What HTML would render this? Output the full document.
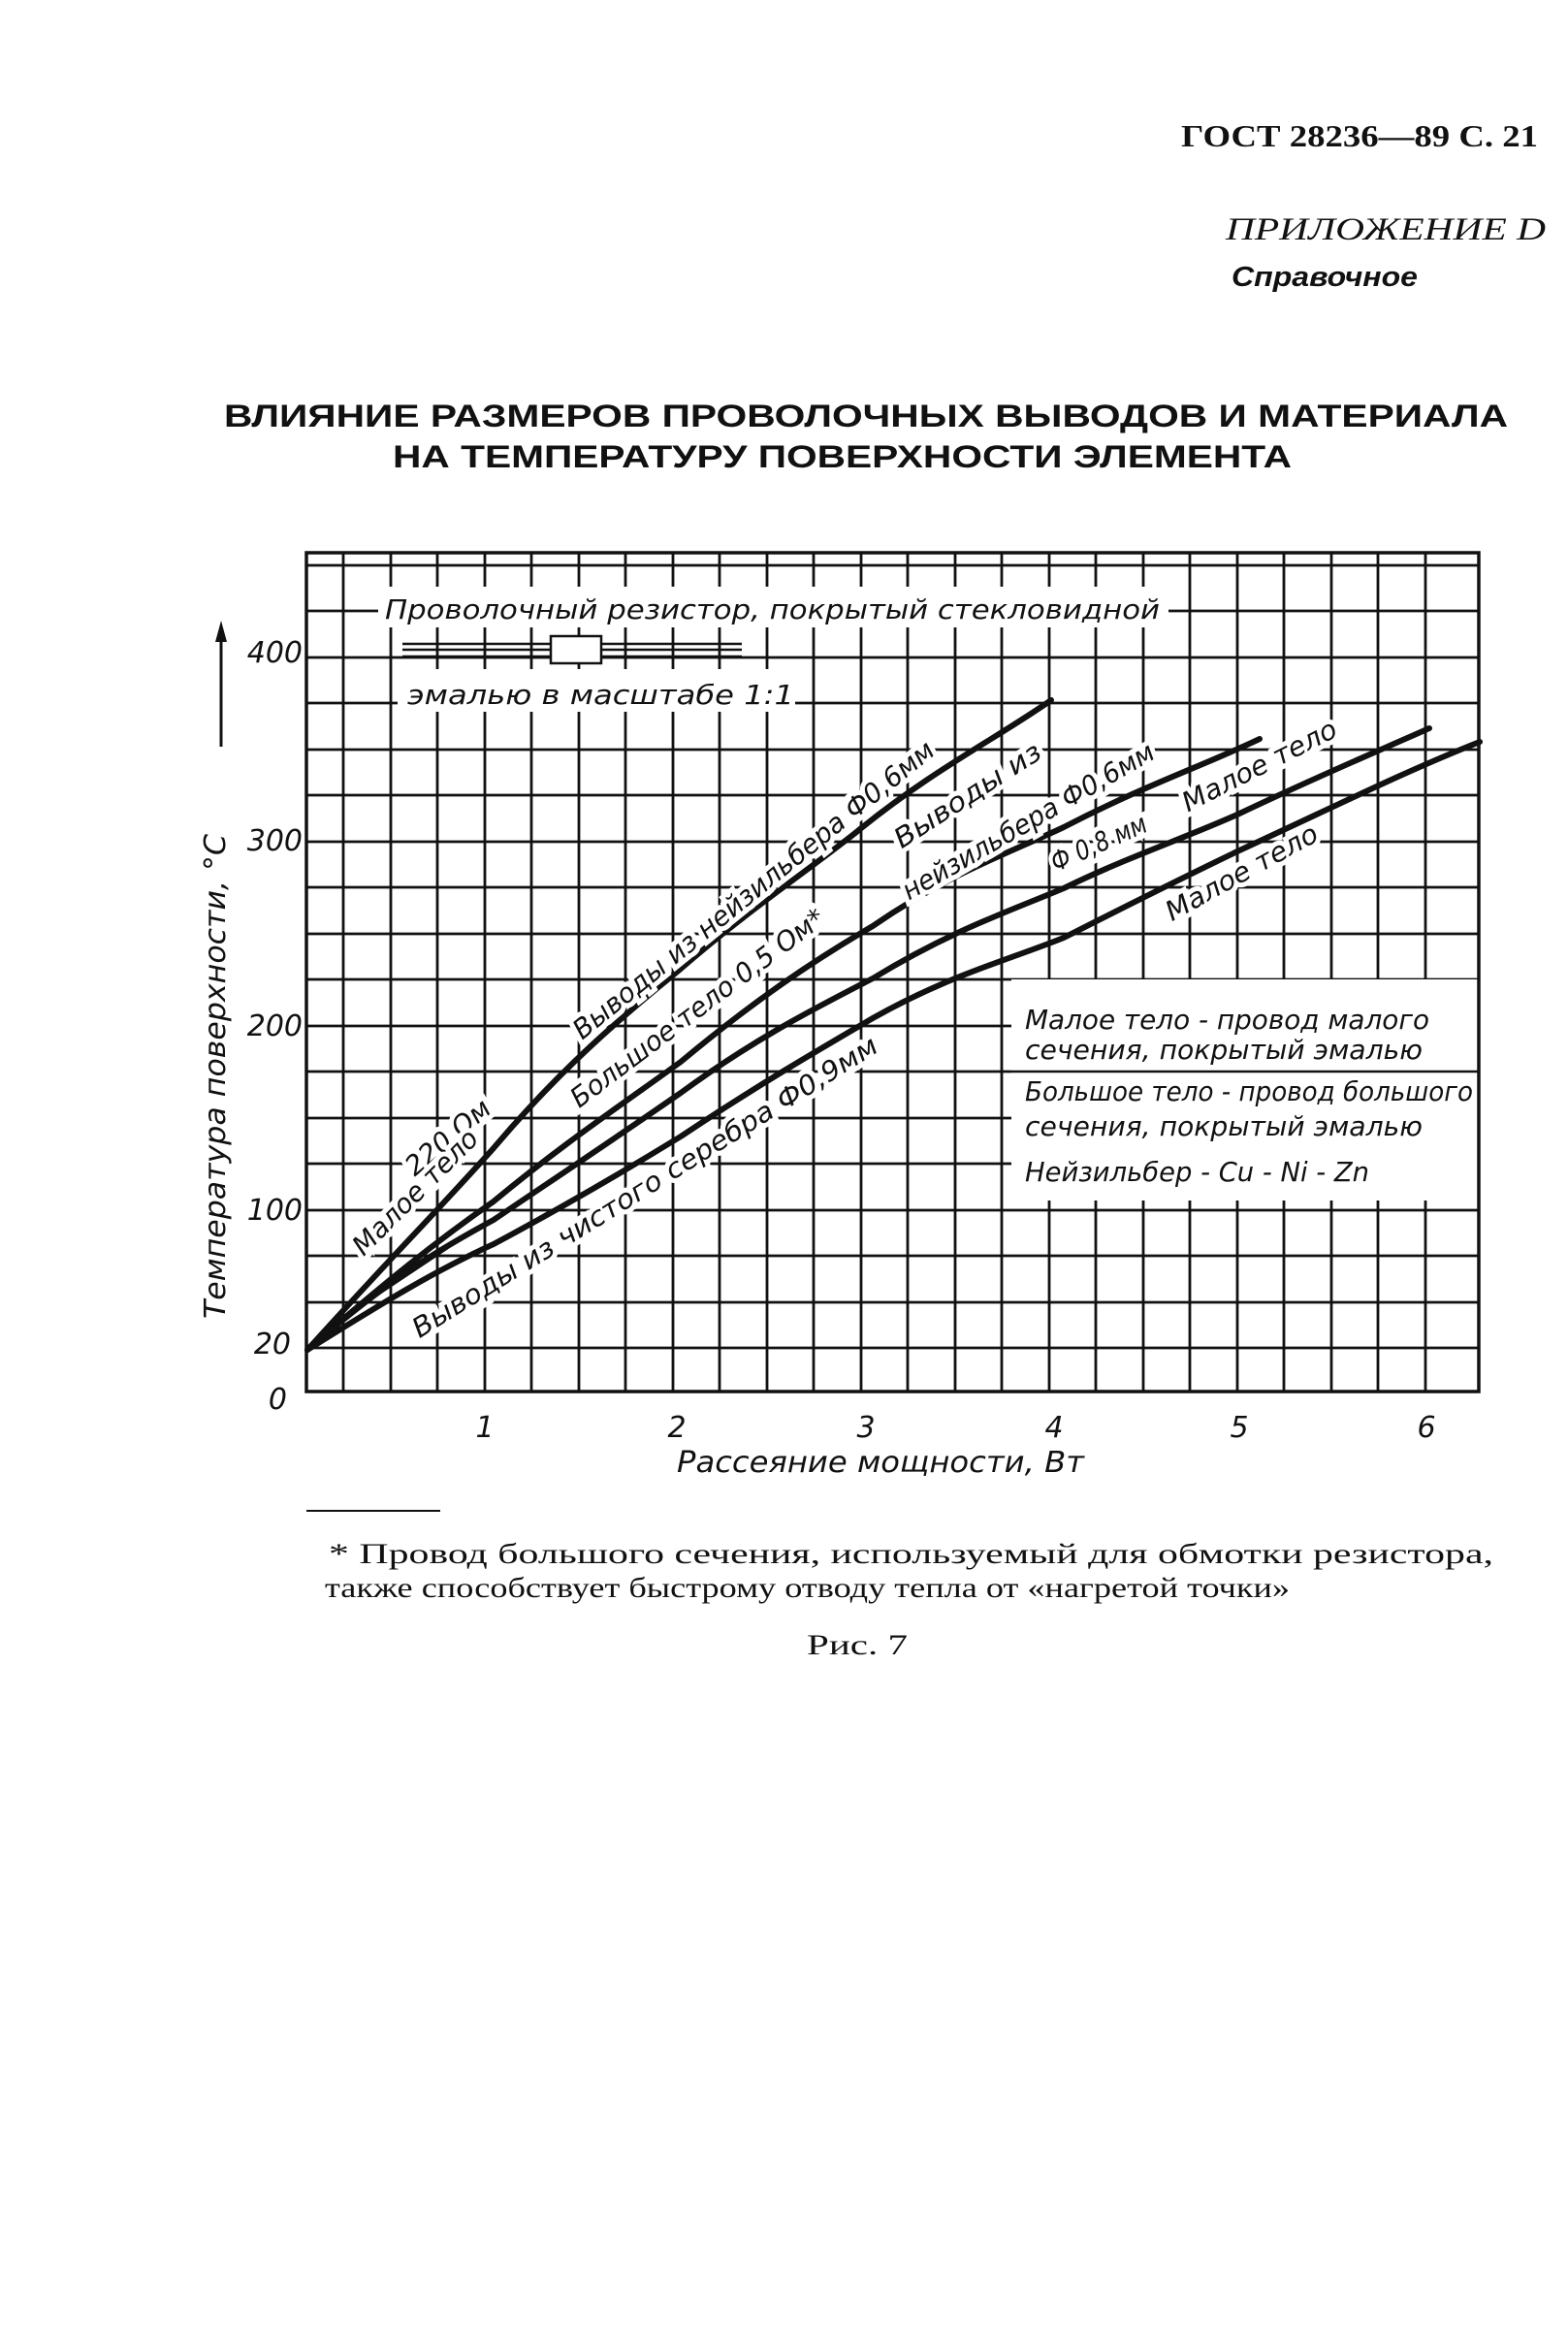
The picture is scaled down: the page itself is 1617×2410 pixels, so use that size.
<!DOCTYPE html>
<html><head><meta charset="utf-8"><style>
html,body{margin:0;padding:0;background:#fff}
body{width:1617px;height:2410px;position:relative;overflow:hidden}
svg{position:absolute;left:0;top:0}
</style></head><body>
<svg width="1617" height="2410" viewBox="0 0 1617 2410" xmlns="http://www.w3.org/2000/svg">
<g font-family="Liberation Serif, serif" fill="#111">
<text x="1586" y="151" font-size="32" font-weight="bold" text-anchor="end" textLength="368" lengthAdjust="spacingAndGlyphs">ГОСТ 28236—89 С. 21</text>
<text x="1594" y="247" font-size="33" font-style="italic" text-anchor="end" textLength="330" lengthAdjust="spacingAndGlyphs">ПРИЛОЖЕНИЕ D</text>
<text x="1270" y="295" font-size="29" font-style="italic" font-weight="bold" font-family="Liberation Sans, sans-serif" textLength="192" lengthAdjust="spacingAndGlyphs">Справочное</text>
<text x="231" y="440" font-size="32" font-weight="bold" font-family="Liberation Sans, sans-serif" textLength="1324" lengthAdjust="spacingAndGlyphs">ВЛИЯНИЕ РАЗМЕРОВ ПРОВОЛОЧНЫХ ВЫВОДОВ И МАТЕРИАЛА</text>
<text x="405" y="482" font-size="32" font-weight="bold" font-family="Liberation Sans, sans-serif" textLength="927" lengthAdjust="spacingAndGlyphs">НА ТЕМПЕРАТУРУ ПОВЕРХНОСТИ ЭЛЕМЕНТА</text>
<line x1="316" y1="1558" x2="454" y2="1558" stroke="#111" stroke-width="2"/>
<text x="339" y="1612" font-size="30" textLength="1201" lengthAdjust="spacingAndGlyphs">* Провод большого сечения, используемый для обмотки резистора,</text>
<text x="335" y="1647" font-size="30" textLength="995" lengthAdjust="spacingAndGlyphs">также способствует быстрому отводу тепла от «нагретой точки»</text>
<text x="832" y="1706" font-size="30" textLength="104" lengthAdjust="spacingAndGlyphs">Рис. 7</text>
</g>
<g stroke="#111" stroke-width="2.8">
<line x1="354" y1="570" x2="354" y2="1435"/><line x1="403" y1="570" x2="403" y2="1435"/><line x1="451" y1="570" x2="451" y2="1435"/><line x1="500" y1="570" x2="500" y2="1435"/><line x1="548" y1="570" x2="548" y2="1435"/><line x1="597" y1="570" x2="597" y2="1435"/><line x1="645" y1="570" x2="645" y2="1435"/><line x1="694" y1="570" x2="694" y2="1435"/><line x1="742" y1="570" x2="742" y2="1435"/><line x1="791" y1="570" x2="791" y2="1435"/><line x1="839" y1="570" x2="839" y2="1435"/><line x1="888" y1="570" x2="888" y2="1435"/><line x1="936" y1="570" x2="936" y2="1435"/><line x1="985" y1="570" x2="985" y2="1435"/><line x1="1033" y1="570" x2="1033" y2="1435"/><line x1="1082" y1="570" x2="1082" y2="1435"/><line x1="1130" y1="570" x2="1130" y2="1435"/><line x1="1179" y1="570" x2="1179" y2="1435"/><line x1="1227" y1="570" x2="1227" y2="1435"/><line x1="1276" y1="570" x2="1276" y2="1435"/><line x1="1324" y1="570" x2="1324" y2="1435"/><line x1="1373" y1="570" x2="1373" y2="1435"/><line x1="1421" y1="570" x2="1421" y2="1435"/><line x1="1470" y1="570" x2="1470" y2="1435"/>
<line x1="316" y1="1390" x2="1525" y2="1390"/><line x1="316" y1="1343" x2="1525" y2="1343"/><line x1="316" y1="1295" x2="1525" y2="1295"/><line x1="316" y1="1248" x2="1525" y2="1248"/><line x1="316" y1="1200" x2="1525" y2="1200"/><line x1="316" y1="1153" x2="1525" y2="1153"/><line x1="316" y1="1105" x2="1525" y2="1105"/><line x1="316" y1="1058" x2="1525" y2="1058"/><line x1="316" y1="1010" x2="1525" y2="1010"/><line x1="316" y1="963" x2="1525" y2="963"/><line x1="316" y1="915" x2="1525" y2="915"/><line x1="316" y1="868" x2="1525" y2="868"/><line x1="316" y1="820" x2="1525" y2="820"/><line x1="316" y1="773" x2="1525" y2="773"/><line x1="316" y1="725" x2="1525" y2="725"/><line x1="316" y1="678" x2="1525" y2="678"/><line x1="316" y1="630" x2="1525" y2="630"/><line x1="316" y1="583" x2="1525" y2="583"/>
</g>
<g fill="#fff">
<rect x="390" y="605" width="815" height="42"/>
<rect x="410" y="690" width="410" height="44"/>
<rect x="1043" y="1010" width="482" height="228"/>
</g>
<rect x="316" y="570" width="1209" height="865" fill="none" stroke="#111" stroke-width="3.5"/>
<g stroke="#111" stroke-width="2.5" fill="none">
<line x1="415" y1="664" x2="765" y2="664"/><line x1="415" y1="670" x2="765" y2="670"/><line x1="415" y1="677" x2="765" y2="677"/>
<rect x="568" y="656" width="52" height="28" fill="#fff"/>
<line x1="1043" y1="1105" x2="1525" y2="1105"/>
</g>
<g stroke="#111" stroke-width="6" fill="none" stroke-linejoin="round" stroke-linecap="round">
<path d="M317,1392 C400,1300 450,1250 509,1184 C580,1100 640,1050 702,999 C770,940 830,900 882,859 C960,795 1030,760 1084,722"/>
<path d="M317,1392 C400,1320 450,1280 509,1239 C580,1180 640,1140 702,1095 C780,1030 840,990 900,955 C980,900 1040,880 1097,853 C1180,810 1240,790 1299,762"/>
<path d="M317,1392 C400,1320 450,1290 509,1258 C580,1210 640,1170 702,1127 C780,1070 840,1040 900,1009 C980,960 1040,940 1097,916 C1160,885 1220,865 1276,840 C1360,800 1420,775 1474,751"/>
<path d="M317,1392 C400,1340 450,1310 509,1283 C580,1245 640,1210 702,1172 C780,1120 840,1085 900,1050 C980,1005 1040,990 1097,967 C1160,935 1220,905 1276,878 C1380,830 1450,795 1526,765"/>
<path d="M388,1334 L460,1286"/>
</g>
<g font-family="DejaVu Sans, sans-serif" font-style="italic" fill="#111" font-size="28">
<text x="397" y="638" textLength="799" lengthAdjust="spacingAndGlyphs">Проволочный резистор, покрытый стекловидной</text>
<text x="420" y="726" textLength="399" lengthAdjust="spacingAndGlyphs">эмалью в масштабе 1:1</text>
<text x="1057" y="1061" textLength="417" lengthAdjust="spacingAndGlyphs">Малое тело - провод малого</text>
<text x="1057" y="1092" textLength="410" lengthAdjust="spacingAndGlyphs">сечения, покрытый эмалью</text>
<text x="1057" y="1135" textLength="462" lengthAdjust="spacingAndGlyphs">Большое тело - провод большого</text>
<text x="1057" y="1171" textLength="410" lengthAdjust="spacingAndGlyphs">сечения, покрытый эмалью</text>
<text x="1057" y="1218" textLength="355" lengthAdjust="spacingAndGlyphs">Нейзильбер - Cu - Ni - Zn</text>
<g text-anchor="end" font-size="30">
<text x="312" y="683">400</text><text x="312" y="877">300</text><text x="312" y="1068">200</text><text x="312" y="1258">100</text><text x="300" y="1396">20</text><text x="296" y="1453">0</text>
</g>
<g text-anchor="middle" font-size="30">
<text x="500" y="1482">1</text><text x="698" y="1482">2</text><text x="893" y="1482">3</text><text x="1087" y="1482">4</text><text x="1278" y="1482">5</text><text x="1471" y="1482">6</text>
</g>
<text x="908" y="1518" text-anchor="middle" font-size="30" textLength="420" lengthAdjust="spacingAndGlyphs">Рассеяние мощности, Вт</text>
<text transform="translate(232,1110) rotate(-90)" text-anchor="middle" font-size="30" textLength="500" lengthAdjust="spacingAndGlyphs">Температура поверхности, °С</text>
<g stroke="#fff" stroke-width="10" paint-order="stroke" font-size="28">
<text transform="translate(783,925) rotate(-39)" text-anchor="middle" textLength="470" lengthAdjust="spacingAndGlyphs">Выводы из нейзильбера Ф0,6мм</text>
<text transform="translate(1003,828) rotate(-33)" text-anchor="middle" textLength="175" lengthAdjust="spacingAndGlyphs">Выводы из</text>
<text transform="translate(1065,855) rotate(-30)" text-anchor="middle" textLength="295" lengthAdjust="spacingAndGlyphs">нейзильбера Ф0,6мм</text>
<text transform="translate(725,1047) rotate(-37)" text-anchor="middle" textLength="320" lengthAdjust="spacingAndGlyphs">Большое тело 0,5 Ом*</text>
<text transform="translate(1137,878) rotate(-24)" text-anchor="middle" textLength="105" lengthAdjust="spacingAndGlyphs">Ф 0,8 мм</text>
<text transform="translate(1303,798) rotate(-27)" text-anchor="middle" textLength="175" lengthAdjust="spacingAndGlyphs">Малое тело</text>
<text transform="translate(1285,908) rotate(-29)" text-anchor="middle" textLength="175" lengthAdjust="spacingAndGlyphs">Малое тело</text>
<text transform="translate(670,1232) rotate(-32)" text-anchor="middle" textLength="560" lengthAdjust="spacingAndGlyphs">Выводы из чистого серебра Ф0,9мм</text>
<text transform="translate(468,1180) rotate(-40)" text-anchor="middle" textLength="105" lengthAdjust="spacingAndGlyphs">220 Ом</text>
<text transform="translate(435,1236) rotate(-45)" text-anchor="middle" textLength="170" lengthAdjust="spacingAndGlyphs">Малое тело</text>
</g>
</g>
<line x1="228" y1="770" x2="228" y2="655" stroke="#111" stroke-width="3"/>
<polygon points="228,640 222,662 234,662" fill="#111"/>
</svg>
</body></html>
